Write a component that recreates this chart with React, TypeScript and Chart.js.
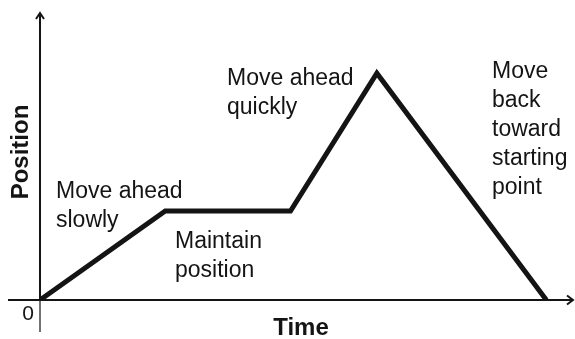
import React, { useEffect, useRef } from "react";
import { Chart, registerables } from "chart.js";

Chart.register(...registerables);

// ---- data ----
const times = [0, 23.5, 47, 63.2, 95];
const positions = [0, 31, 31, 79, 0];
const phaseLabels: string[][] = [
  ["Move ahead", "slowly"],
  ["Maintain", "position"],
  ["Move ahead", "quickly"],
  ["Move", "back", "toward", "starting", "point"],
];
const xTitle = "Time";
const yTitle = "Position";
const originLabel = "0";

// ---- layout for annotations (pixels) ----
const labelAnchors = [
  { x: 56, y: 198 },
  { x: 175, y: 248 },
  { x: 227, y: 85 },
  { x: 492, y: 78 },
];
const LINE_H = 29;
const FONT = '"Liberation Sans", Arial, Helvetica, sans-serif';
const INK = "#141414";

const axesPlugin = {
  id: "axesDecor",
  afterDraw(chart: any) {
    const { ctx, scales, chartArea } = chart;
    const x0 = scales.x.getPixelForValue(0);
    const y0 = scales.y.getPixelForValue(0);
    const xEnd = chartArea.right;
    const yTop = chartArea.top;
    ctx.save();
    ctx.strokeStyle = INK;
    ctx.lineCap = "butt";
    // x axis
    ctx.lineWidth = 2;
    ctx.beginPath();
    ctx.moveTo(8, y0);
    ctx.lineTo(xEnd, y0);
    ctx.stroke();
    // y axis
    ctx.beginPath();
    ctx.moveTo(x0, yTop);
    ctx.lineTo(x0, y0);
    ctx.stroke();
    // y axis extension below origin
    ctx.lineWidth = 1.2;
    ctx.beginPath();
    ctx.moveTo(x0, y0);
    ctx.lineTo(x0, y0 + 32);
    ctx.stroke();
    // arrowheads
    ctx.lineWidth = 2;
    ctx.beginPath();
    ctx.moveTo(x0 - 4, yTop + 6);
    ctx.lineTo(x0, yTop);
    ctx.lineTo(x0 + 4, yTop + 6);
    ctx.stroke();
    ctx.beginPath();
    ctx.moveTo(xEnd - 6, y0 - 4.5);
    ctx.lineTo(xEnd, y0);
    ctx.lineTo(xEnd - 6, y0 + 4.5);
    ctx.stroke();

    // texts
    ctx.fillStyle = INK;
    ctx.textAlign = "left";
    ctx.textBaseline = "alphabetic";
    ctx.font = `23px ${FONT}`;
    phaseLabels.forEach((lines, i) => {
      const a = labelAnchors[i];
      lines.forEach((t, j) => ctx.fillText(t, a.x, a.y + j * LINE_H));
    });

    // origin label
    ctx.font = `21px ${FONT}`;
    ctx.textAlign = "center";
    ctx.textBaseline = "middle";
    ctx.fillText(originLabel, 28, 314);

    // axis titles
    ctx.font = `bold 24px ${FONT}`;
    ctx.textAlign = "center";
    ctx.textBaseline = "alphabetic";
    ctx.fillText(xTitle, 301, 335);

    ctx.save();
    ctx.translate(21, 152);
    ctx.rotate(-Math.PI / 2);
    ctx.textBaseline = "middle";
    ctx.fillText(yTitle, 0, 0);
    ctx.restore();

    ctx.restore();
  },
};

export default function App() {
  const ref = useRef<HTMLCanvasElement>(null);
  useEffect(() => {
    if (!ref.current) return;
    const chart = new Chart(ref.current, {
      type: "line",
      data: {
        datasets: [
          {
            data: times.map((t, i) => ({ x: t, y: positions[i] })),
            borderColor: INK,
            borderWidth: 5,
            pointRadius: 0,
            tension: 0,
            fill: false,
            borderJoinStyle: "miter",
          },
        ],
      },
      options: {
        animation: false,
        responsive: false,
        devicePixelRatio: 1,
        layout: { padding: { left: 40, right: 2, top: 13, bottom: 39 } },
        plugins: { legend: { display: false }, tooltip: { enabled: false } },
        scales: {
          x: { type: "linear", min: 0, max: 100, display: false },
          y: { type: "linear", min: 0, max: 100, display: false },
        },
      },
      plugins: [axesPlugin],
    });
    return () => chart.destroy();
  }, []);
  return (
    <div style={{ position: "fixed", left: 0, top: 0, width: 575, height: 339, background: "#fff" }}>
      <canvas ref={ref} width={575} height={339} />
    </div>
  );
}
